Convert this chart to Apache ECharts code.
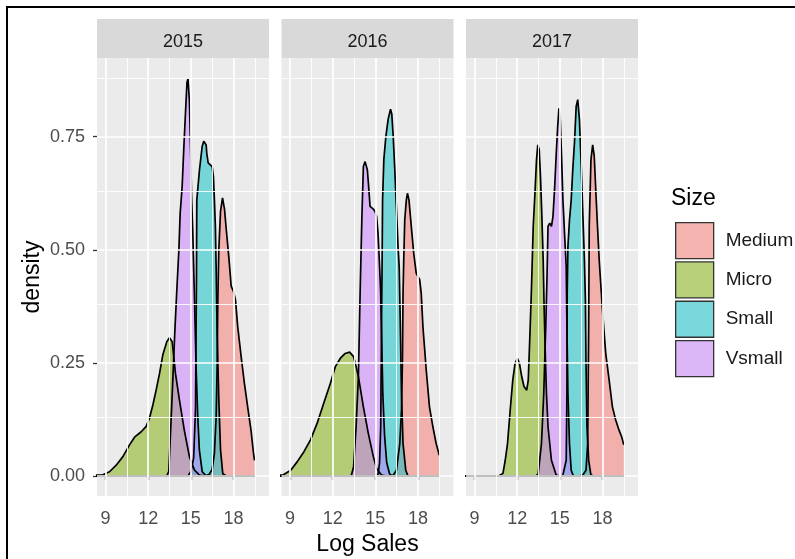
<!DOCTYPE html>
<html>
<head>
<meta charset="utf-8">
<script src="https://cdn.jsdelivr.net/npm/echarts@6/dist/echarts.min.js"></script>
<style>
html,body{margin:0;padding:0;background:#fff;}
#chart{width:795px;height:559px;}
</style>
</head>
<body>
<div id="chart"></div>
<script>
// ---- data ----
const years = ['2015', '2016', '2017'];
const sizes = ['Medium', 'Micro', 'Small', 'Vsmall'];
const xTicks = [9, 12, 15, 18];
const xMinor = [10.5, 13.5, 16.5, 19.5];
const yTicks = [0, 0.25, 0.5, 0.75];
const yMinor = [0.125, 0.375, 0.625, 0.875];
const xTitle = 'Log Sales';
const yTitle = 'density';
const legendTitle = 'Size';

const med2015 = [[8.0,0],[16.0,0],[16.3,0.004],[16.5,0.015],[16.66,0.05],[16.78,0.13],[16.85,0.24],[16.9,0.39],[16.97,0.5],[17.09,0.585],[17.23,0.615],[17.37,0.59],[17.48,0.55],[17.67,0.485],[17.84,0.42],[18.0,0.408],[18.14,0.39],[18.3,0.33],[18.54,0.264],[18.77,0.205],[19.0,0.153],[19.24,0.10],[19.41,0.05],[19.48,0.035]];
const micro2015 = [[8.0,0.0005],[8.34,0.002],[8.81,0.003],[9.28,0.0096],[9.75,0.024],[10.22,0.043],[10.69,0.069],[11.04,0.086],[11.51,0.098],[11.86,0.11],[12.09,0.128],[12.33,0.157],[12.56,0.19],[12.8,0.227],[13.03,0.268],[13.31,0.297],[13.5,0.306],[13.69,0.297],[13.92,0.227],[14.2,0.168],[14.55,0.10],[14.9,0.043],[15.26,0.013],[15.61,0.002],[16.0,0],[19.5,0]];
const small2015 = [[8.0,0],[14.8,0],[15.0,0.01],[15.2,0.04],[15.33,0.15],[15.4,0.45],[15.42,0.61],[15.61,0.677],[15.8,0.729],[15.91,0.74],[16.0,0.743],[16.08,0.732],[16.12,0.714],[16.22,0.692],[16.31,0.688],[16.5,0.684],[16.59,0.662],[16.66,0.61],[16.73,0.55],[16.78,0.463],[16.85,0.316],[16.97,0.168],[17.09,0.058],[17.25,0.005],[17.5,0],[19.5,0]];
const vsmall2015 = [[8.0,0],[13.3,0],[13.45,0.01],[13.66,0.158],[13.87,0.316],[14.01,0.408],[14.16,0.5],[14.25,0.58],[14.39,0.64],[14.5,0.72],[14.62,0.80],[14.73,0.87],[14.8,0.878],[14.9,0.83],[14.98,0.73],[15.05,0.62],[15.14,0.537],[15.26,0.39],[15.37,0.24],[15.49,0.13],[15.6,0.058],[15.8,0.01],[16.08,0],[19.5,0]];

const med2016 = [[8.0,0],[16.0,0],[16.26,0.002],[16.49,0.013],[16.72,0.072],[16.84,0.146],[16.91,0.257],[16.95,0.404],[17.0,0.478],[17.07,0.566],[17.18,0.61],[17.26,0.625],[17.37,0.61],[17.53,0.552],[17.7,0.493],[17.88,0.448],[18.12,0.434],[18.23,0.404],[18.35,0.33],[18.58,0.235],[18.81,0.153],[19.05,0.109],[19.28,0.072],[19.4,0.058],[19.5,0.046]];
const micro2016 = [[8.0,0.001],[8.53,0.003],[9.05,0.013],[9.51,0.032],[9.98,0.054],[10.44,0.08],[10.91,0.117],[11.37,0.161],[11.84,0.205],[12.19,0.242],[12.53,0.26],[12.88,0.271],[13.19,0.274],[13.47,0.264],[13.65,0.242],[13.81,0.22],[14.16,0.153],[14.51,0.094],[14.86,0.043],[15.09,0.017],[15.44,0.002],[15.79,0],[19.5,0]];
const small2016 = [[8.0,0],[15.0,0],[15.2,0.005],[15.3,0.03],[15.38,0.11],[15.44,0.35],[15.48,0.478],[15.51,0.61],[15.6,0.70],[15.74,0.75],[15.9,0.788],[16.07,0.811],[16.16,0.80],[16.26,0.75],[16.37,0.677],[16.49,0.588],[16.6,0.507],[16.68,0.463],[16.75,0.35],[16.84,0.183],[16.95,0.072],[17.14,0.013],[17.3,0],[19.5,0]];
const vsmall2016 = [[8.0,0],[13.3,0],[13.47,0.02],[13.65,0.11],[13.81,0.22],[13.93,0.404],[14.05,0.566],[14.16,0.684],[14.28,0.695],[14.37,0.699],[14.44,0.677],[14.53,0.64],[14.63,0.596],[14.74,0.592],[14.86,0.59],[14.98,0.585],[15.09,0.574],[15.19,0.537],[15.28,0.478],[15.37,0.411],[15.45,0.30],[15.53,0.18],[15.65,0.09],[15.8,0.03],[16.0,0.005],[16.2,0],[19.5,0]];

const med2017 = [[8.0,0],[16.4,0],[16.61,0.002],[16.84,0.013],[16.96,0.072],[17.03,0.33],[17.07,0.552],[17.19,0.699],[17.31,0.732],[17.42,0.708],[17.54,0.625],[17.65,0.552],[17.77,0.478],[17.89,0.419],[18.0,0.367],[18.12,0.316],[18.23,0.271],[18.47,0.212],[18.7,0.153],[18.93,0.124],[19.16,0.102],[19.35,0.087],[19.5,0.069]];
const micro2017 = [[8.0,0],[10.7,0],[10.81,0.001],[11.0,0.006],[11.16,0.035],[11.32,0.072],[11.51,0.146],[11.69,0.212],[11.85,0.249],[12.02,0.26],[12.16,0.249],[12.32,0.22],[12.48,0.198],[12.67,0.19],[12.78,0.212],[12.9,0.316],[13.01,0.419],[13.13,0.552],[13.25,0.625],[13.36,0.699],[13.45,0.732],[13.55,0.721],[13.64,0.662],[13.73,0.581],[13.83,0.478],[13.9,0.367],[13.99,0.257],[14.06,0.183],[14.17,0.109],[14.41,0.035],[14.75,0.002],[15.0,0],[19.5,0]];
const small2017 = [[8.0,0],[15.2,0],[15.33,0.003],[15.45,0.035],[15.5,0.183],[15.52,0.404],[15.57,0.507],[15.68,0.566],[15.8,0.61],[15.91,0.677],[16.03,0.736],[16.15,0.817],[16.26,0.832],[16.38,0.788],[16.49,0.699],[16.61,0.588],[16.73,0.478],[16.8,0.389],[16.84,0.257],[16.91,0.109],[17.03,0.035],[17.19,0.002],[17.4,0],[19.5,0]];
const vsmall2017 = [[8.0,0],[13.3,0],[13.48,0.005],[13.71,0.072],[13.87,0.183],[14.01,0.33],[14.1,0.441],[14.17,0.552],[14.29,0.559],[14.41,0.552],[14.52,0.574],[14.64,0.64],[14.75,0.714],[14.85,0.773],[14.94,0.813],[15.03,0.788],[15.13,0.699],[15.22,0.61],[15.33,0.537],[15.45,0.463],[15.5,0.33],[15.57,0.183],[15.68,0.072],[15.8,0.013],[15.96,0],[19.5,0]];

const curves = {
  '2015': [med2015, micro2015, small2015, vsmall2015],
  '2016': [med2016, micro2016, small2016, vsmall2016],
  '2017': [med2017, micro2017, small2017, vsmall2017]
};

// ---- styles ----
const FONT = "'Liberation Sans', Arial, sans-serif";
const fills = ['rgba(248,118,109,0.5)', 'rgba(124,174,0,0.5)', 'rgba(0,191,196,0.5)', 'rgba(199,124,255,0.5)'];
const keyFills = ['#F5B4AF', '#B7D079', '#79D8DB', '#DCB7F8'];
const PL = 97, PT = 58, PW = 172, PH = 438, PGAP = 12.5;

const chart = echarts.init(document.getElementById('chart'), null, {renderer: 'canvas'});

const grid = [], xAxis = [], yAxis = [], series = [], graphic = [];
years.forEach((yr, i) => {
  const left = PL + i * (PW + PGAP);
  grid.push({left: left, top: PT, width: PW, height: PH, show: true, backgroundColor: '#EBEBEB', borderWidth: 0,
    containLabel: false, outerBoundsMode: 'none'});
  xAxis.push({
    type: 'value', gridIndex: i, min: 8.4, max: 20.5,
    axisLine: {show: false},
    axisTick: {show: true, customValues: xTicks, length: 4, lineStyle: {color: '#333333', width: 1.3}},
    axisLabel: {show: true, customValues: xTicks, color: '#4D4D4D', fontSize: 18, fontFamily: FONT, margin: 14},
    splitLine: {show: false}
  });
  yAxis.push({
    type: 'value', gridIndex: i, min: -0.044, max: 0.924,
    axisLine: {show: false},
    axisTick: {show: i === 0, customValues: yTicks, length: 4, lineStyle: {color: '#333333', width: 1.3}},
    axisLabel: {show: i === 0, customValues: yTicks, color: '#4D4D4D', fontSize: 18, fontFamily: FONT, margin: 12,
      formatter: v => v.toFixed(2)},
    splitLine: {show: false}
  });
  // grid lines
  const ml = [];
  xMinor.forEach(v => ml.push({xAxis: v, lineStyle: {color: '#FFFFFF', width: 0.9, type: 'solid'}}));
  yMinor.forEach(v => ml.push({yAxis: v, lineStyle: {color: '#FFFFFF', width: 0.9, type: 'solid'}}));
  xTicks.forEach(v => ml.push({xAxis: v, lineStyle: {color: '#FFFFFF', width: 1.7, type: 'solid'}}));
  yTicks.forEach(v => ml.push({yAxis: v, lineStyle: {color: '#FFFFFF', width: 1.7, type: 'solid'}}));
  series.push({
    type: 'line', name: 'grid' + i, xAxisIndex: i, yAxisIndex: i, data: [], z: 1, silent: true,
    markLine: {silent: true, symbol: ['none', 'none'], label: {show: false}, animation: false, data: ml}
  });
  sizes.forEach((s, k) => {
    series.push({
      type: 'line', name: s, xAxisIndex: i, yAxisIndex: i, z: 2,
      data: curves[yr][k], showSymbol: false, symbol: 'none', smooth: false,
      lineStyle: {color: '#000000', width: 1.7},
      itemStyle: {color: keyFills[k]},
      areaStyle: {color: fills[k], opacity: 1, origin: 0},
      animation: false, silent: true
    });
  });
  // strip
  graphic.push({type: 'rect', left: left, top: 19, shape: {width: PW, height: PT - 19}, style: {fill: '#D9D9D9'}, z: 10});
  graphic.push({type: 'text', x: left + PW / 2, y: 42, style: {text: yr, fill: '#1A1A1A', font: '18px ' + FONT, textAlign: 'center', textVerticalAlign: 'middle'}, z: 11});
});

// axis titles, legend title, outer frame
graphic.push({type: 'text', x: PL + (3 * PW + 2 * PGAP) / 2, y: 545, style: {text: xTitle, fill: '#000', font: '23px ' + FONT, textAlign: 'center', textVerticalAlign: 'middle'}, z: 11});
graphic.push({type: 'text', x: 33, y: PT + PH / 2, rotation: Math.PI / 2, style: {text: yTitle, fill: '#000', font: '23px ' + FONT, textAlign: 'center', textVerticalAlign: 'middle'}, z: 11});
graphic.push({type: 'text', x: 671, y: 199, style: {text: legendTitle, fill: '#000', font: '23px ' + FONT, textAlign: 'left', textVerticalAlign: 'middle'}, z: 11});
graphic.push({type: 'rect', shape: {x: 7, y: 7, width: 800, height: 560}, style: {fill: 'none', stroke: '#000', lineWidth: 2}, z: 20});

chart.setOption({
  animation: false,
  backgroundColor: '#FFFFFF',
  textStyle: {fontFamily: FONT},
  grid: grid, xAxis: xAxis, yAxis: yAxis, series: series, graphic: graphic,
  legend: {
    orient: 'vertical', left: 675, top: 222, padding: 0, itemWidth: 38, itemHeight: 36, itemGap: 2,
    icon: 'rect', selectedMode: false,
    textStyle: {fontSize: 19, color: '#1A1A1A', fontFamily: FONT, padding: [0, 0, 0, 7]},
    data: sizes.map((s, k) => ({name: s, icon: 'rect', itemStyle: {color: keyFills[k], borderColor: '#333333', borderWidth: 1.3}}))
  }
});
</script>
</body>
</html>
